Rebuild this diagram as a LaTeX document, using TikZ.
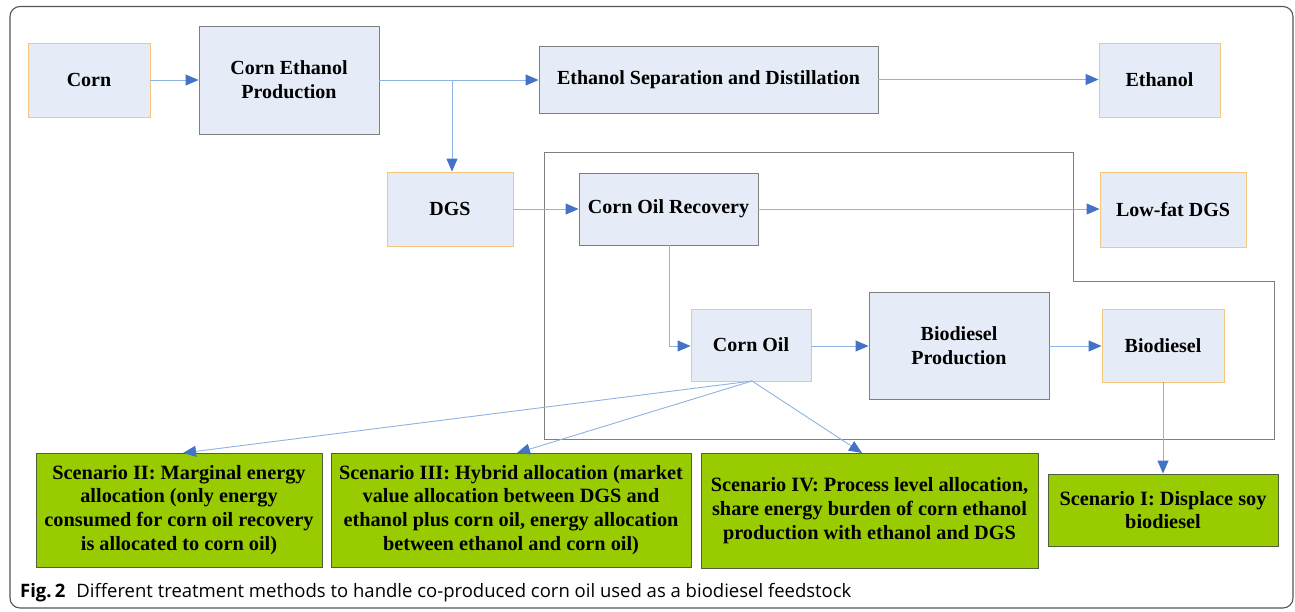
\documentclass[tikz,border=0pt]{standalone}
\usepackage{fontspec}
\setmainfont{Liberation Serif}
\newfontfamily\capfont{Open Sans}
\usetikzlibrary{arrows.meta}
\definecolor{boxfill}{HTML}{E6ECF7}
\definecolor{orangeb}{HTML}{F5C77E}
\definecolor{grayb}{HTML}{7F7F7F}
\definecolor{greenf}{HTML}{99CC00}
\definecolor{greenb}{HTML}{4F5F3A}
\definecolor{linec}{HTML}{8DB3E2}
\definecolor{headc}{HTML}{4472C4}
\definecolor{framec}{HTML}{555555}
\tikzset{
  base/.style={fill=boxfill, font=\fontsize{20}{24}\selectfont\bfseries, align=center, inner sep=0pt, line width=0.9pt},
  obox/.style={base, draw=orangeb},
  gbox/.style={base, draw=grayb},
  sbox/.style={fill=greenf, draw=greenb, line width=0.9pt, font=\fontsize{20.3}{23.8}\selectfont\bfseries, align=center, inner sep=0pt},
  flow/.style={draw=linec, line width=0.9pt, -{Triangle[length=13pt,width=11pt,color=headc]}}
}
\begin{document}
\begin{tikzpicture}[x=1pt,y=-1pt]
\useasboundingbox (0,0) rectangle (1295,611);
\draw[framec, line width=1.1pt, rounded corners=10pt] (10,6.5) rectangle (1293,608);
% enclosing outline
\draw[grayb, line width=1pt] (544,152) -- (1073,152) -- (1073,281) -- (1274,281) -- (1274,439) -- (544,439) -- cycle;
% nodes
\node[obox, minimum width=122, minimum height=74] (corn) at (89,80) {Corn};
\node[gbox, minimum width=180, minimum height=108] (cep) at (289,80) {Corn Ethanol\\Production};
\node[gbox, minimum width=339, minimum height=67] (esd) at (708.5,79.5) {Ethanol Separation and Distillation};
\node[obox, minimum width=121, minimum height=74] (eth) at (1159.5,80) {Ethanol};
\node[obox, minimum width=126, minimum height=74] (dgs) at (450,209) {DGS};
\node[gbox, minimum width=179, minimum height=72] (cor) at (668.5,209) {Corn Oil Recovery};
\node[obox, minimum width=146, minimum height=75] (lfd) at (1173,209.5) {Low-fat DGS};
\node[obox, minimum width=120, minimum height=72] (oil) at (751,345) {Corn Oil};
\node[gbox, minimum width=180, minimum height=107] (bp) at (959,345.5) {Biodiesel\\Production};
\node[obox, minimum width=122, minimum height=73] (bio) at (1163,345.5) {Biodiesel};
\node[sbox, minimum width=286, minimum height=114] (s2) at (179,510) {Scenario II: Marginal energy\\allocation (only energy\\consumed for corn oil recovery\\is allocated to corn oil)};
\node[sbox, minimum width=360, minimum height=114] (s3) at (511,510) {Scenario III: Hybrid allocation (market\\value allocation between DGS and\\ethanol plus corn oil, energy allocation\\between ethanol and corn oil)};
\node[sbox, minimum width=337, minimum height=115] (s4) at (869.5,510.5) {Scenario IV: Process level allocation,\\share energy burden of corn ethanol\\production with ethanol and DGS};
\node[sbox, minimum width=230, minimum height=72] (s1) at (1163,510) {Scenario I: Displace soy\\biodiesel};
% coordinates
\coordinate (br) at (452,80);
\coordinate (bend) at (669,346);
\coordinate (src) at (752,381);
\coordinate (t2) at (183,453);
\coordinate (t3) at (517,453);
\coordinate (t4) at (862,453);
% connectors
\draw[flow] (corn.east) -- (cep.west);
\draw[flow] (cep.east |- br) -- (esd.west |- br);
\draw[flow] (br) -- (dgs.north -| br);
\draw[flow] (esd.east) -- (eth.west |- esd.east);
\draw[flow] (dgs.east) -- (cor.west |- dgs.east);
\draw[flow] (cor.east |- dgs.east) -- (lfd.west |- dgs.east);
\draw[flow] (cor.south -| bend) -- (bend) -- (oil.west |- bend);
\draw[flow] (oil.east |- bend) -- (bp.west |- bend);
\draw[flow] (bp.east |- bend) -- (bio.west |- bend);
\draw[flow] (bio.south) -- (s1.north);
\draw[flow] (src) -- (t2);
\draw[flow] (src) -- (t3);
\draw[flow] (src) -- (t4);
% caption
\node[anchor=base west, inner sep=0pt, font=\capfont\fontsize{18.5}{22}\selectfont] (cap) at (20,597) {\textbf{Fig.\,2}\hspace{0.6em}Different treatment methods to handle co-produced corn oil used as a biodiesel feedstock};
\end{tikzpicture}
\end{document}
